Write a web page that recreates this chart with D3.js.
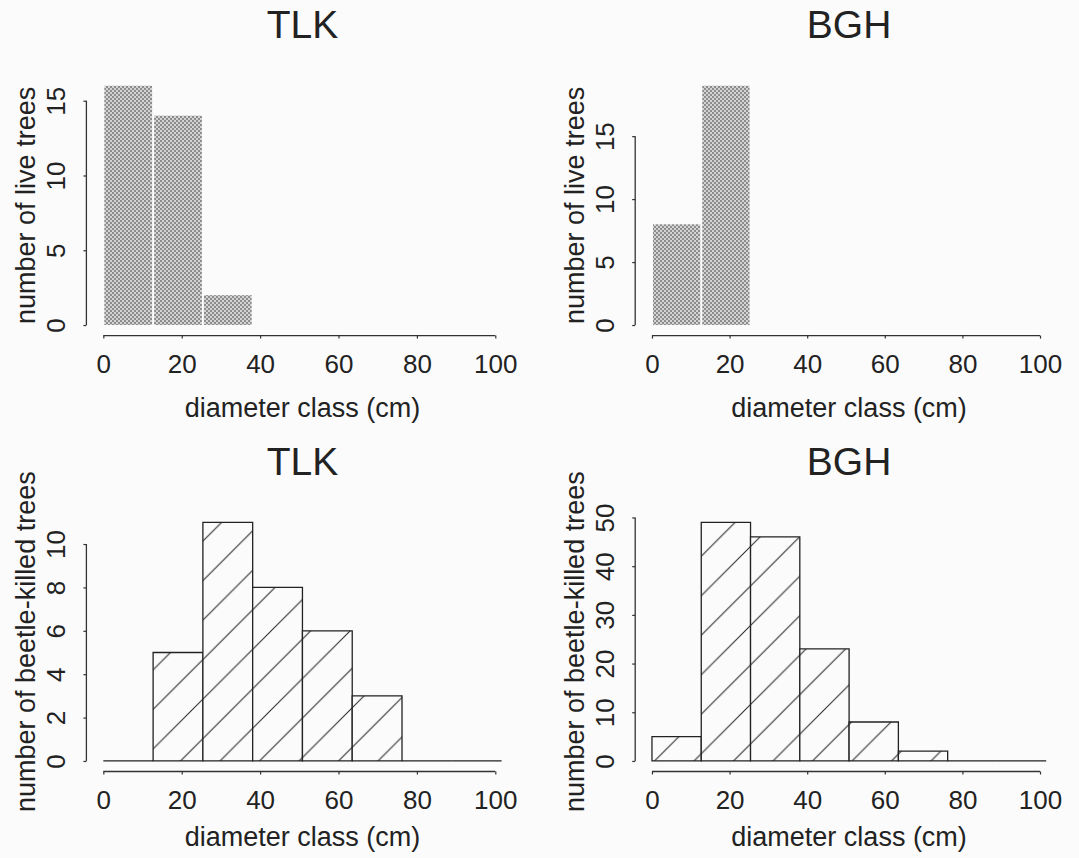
<!DOCTYPE html>
<html lang="en">
<head>
  <meta charset="UTF-8">
  <title>Diameter class histograms</title>
  <style>
    body, html { margin: 0; padding: 0; background: #fbfbfb; }
    svg { display: block; }
    text { font-family: "Liberation Sans", Arial, Helvetica, sans-serif; fill: #222; }
  </style>
</head>
<body>
  <script src="https://d3js.org/d3.v7.min.js"></script>
  <script>
    // histogram bins (5 inch classes, in cm)
    const breaks = [0, 12.7, 25.4, 38.1, 50.8, 63.5, 76.2, 88.9, 101.6];
    const xTicks = [0, 20, 40, 60, 80, 100];

    // counts per bin
    const liveTLK = [16, 14, 2, 0, 0, 0, 0, 0];
    const liveBGH = [8, 19, 0, 0, 0, 0, 0, 0];
    const killedTLK = [0, 5, 11, 8, 6, 3, 0, 0];
    const killedBGH = [5, 49, 46, 23, 8, 2, 0, 0];

    const yTicksLiveTLK = [0, 5, 10, 15];
    const yTicksLiveBGH = [0, 5, 10, 15];
    const yTicksKilledTLK = [0, 2, 4, 6, 8, 10];
    const yTicksKilledBGH = [0, 10, 20, 30, 40, 50];

    const titles = ['TLK', 'BGH'];
    const yLabels = ['number of live trees', 'number of beetle-killed trees'];
    const xLabel = 'diameter class (cm)';

    const width = 1079, height = 858;

    // plot regions (left, right, top, bottom) per column / row
    const cols = [[87.4, 517.5], [636.2, 1062]];
    const rows = [[76.2, 334.6], [512.8, 770.5]];
    const xLabelOffset = [82, 75];

    const panels = [
      { col: 0, row: 0, title: titles[0], counts: liveTLK, yTicks: yTicksLiveTLK, yLabel: yLabels[0], kind: 'stipple' },
      { col: 1, row: 0, title: titles[1], counts: liveBGH, yTicks: yTicksLiveBGH, yLabel: yLabels[0], kind: 'stipple' },
      { col: 0, row: 1, title: titles[0], counts: killedTLK, yTicks: yTicksKilledTLK, yLabel: yLabels[1], kind: 'hatch' },
      { col: 1, row: 1, title: titles[1], counts: killedBGH, yTicks: yTicksKilledBGH, yLabel: yLabels[1], kind: 'hatch' }
    ];

    const svg = d3.select('body').append('svg')
      .attr('width', width)
      .attr('height', height);

    const defs = svg.append('defs');

    // stippled grey fill
    const stip = defs.append('pattern')
      .attr('id', 'stipple')
      .attr('patternUnits', 'userSpaceOnUse')
      .attr('width', 4).attr('height', 4);
    stip.append('rect').attr('width', 4).attr('height', 4).attr('fill', '#d4d4d4');
    stip.append('rect').attr('width', 2).attr('height', 2).attr('fill', '#8c8c8c');
    stip.append('rect').attr('x', 2).attr('y', 2).attr('width', 2).attr('height', 2).attr('fill', '#8c8c8c');

    // 45 degree hatching
    const s = 39.5;
    const hatch = defs.append('pattern')
      .attr('id', 'hatch')
      .attr('patternUnits', 'userSpaceOnUse')
      .attr('x', 33).attr('y', 0)
      .attr('width', s).attr('height', s);
    hatch.append('rect').attr('width', s).attr('height', s).attr('fill', '#fbfbfb');
    hatch.append('path')
      .attr('d', `M-2,2 L2,-2 M0,${s} L${s},0 M${s - 2},${s + 2} L${s + 2},${s - 2}`)
      .attr('stroke', '#222')
      .attr('stroke-width', 1);

    panels.forEach(p => {
      const [left, right] = cols[p.col];
      const [top, bottom] = rows[p.row];
      const xMin = breaks[0], xMax = breaks[breaks.length - 1];
      const xPad = (xMax - xMin) * 0.04;
      const yMax = d3.max(p.counts);

      const x = d3.scaleLinear().domain([xMin - xPad, xMax + xPad]).range([left, right]);
      const y = d3.scaleLinear().domain([-yMax * 0.04, yMax * 1.04]).range([bottom, top]);

      const g = svg.append('g');

      const bins = p.counts.map((c, i) => ({ x0: breaks[i], x1: breaks[i + 1], c }));

      if (p.kind === 'stipple') {
        g.selectAll('rect.bar')
          .data(bins.filter(d => d.c > 0))
          .enter().append('rect')
          .attr('class', 'bar')
          .attr('x', d => x(d.x0) + 1)
          .attr('width', d => x(d.x1) - x(d.x0) - 2)
          .attr('y', d => y(d.c))
          .attr('height', d => y(0) - y(d.c))
          .attr('fill', 'url(#stipple)');
      } else {
        g.selectAll('path.bar')
          .data(bins)
          .enter().append('path')
          .attr('class', 'bar')
          .attr('d', d => `M${x(d.x0)},${y(0)}V${y(d.c)}H${x(d.x1)}V${y(0)}Z`)
          .attr('fill', 'url(#hatch)')
          .attr('stroke', '#222')
          .attr('stroke-width', 1.3);
      }

      // x axis
      const xAxis = g.append('g')
        .attr('transform', `translate(0,${bottom + 1})`)
        .call(d3.axisBottom(x).tickValues(xTicks).tickSize(3).tickSizeOuter(0).tickPadding(0));
      xAxis.select('.domain').attr('d', `M${x(xTicks[0])},0H${x(xTicks[xTicks.length - 1])}`)
        .attr('stroke', '#333').attr('stroke-width', 1.3);
      xAxis.selectAll('.tick line').attr('stroke', '#333').attr('stroke-width', 1.2);
      xAxis.selectAll('.tick text')
        .attr('y', 37).attr('dy', null)
        .style('font-size', '26px')
        .style('font-family', '"Liberation Sans", Arial, sans-serif')
        .attr('fill', '#222');

      // y axis
      const yAxis = g.append('g')
        .attr('transform', `translate(${left - 1},0)`)
        .call(d3.axisLeft(y).tickValues(p.yTicks).tickSize(3).tickSizeOuter(0));
      yAxis.select('.domain').attr('d', `M0,${y(p.yTicks[0])}V${y(p.yTicks[p.yTicks.length - 1])}`)
        .attr('stroke', '#333').attr('stroke-width', 1.3);
      yAxis.selectAll('.tick line').attr('stroke', '#333').attr('stroke-width', 1.2);
      yAxis.selectAll('.tick text')
        .attr('transform', 'rotate(-90)')
        .attr('x', 0).attr('y', -21).attr('dy', null)
        .attr('text-anchor', 'middle')
        .style('font-size', '26px')
        .style('font-family', '"Liberation Sans", Arial, sans-serif')
        .attr('fill', '#222');

      // title
      g.append('text')
        .attr('x', (left + right) / 2)
        .attr('y', top - 38)
        .attr('text-anchor', 'middle')
        .style('font-size', '39px')
        .text(p.title);

      // axis labels
      g.append('text')
        .attr('x', (left + right) / 2)
        .attr('y', bottom + xLabelOffset[p.row])
        .attr('text-anchor', 'middle')
        .style('font-size', '27px')
        .text(xLabel);

      g.append('text')
        .attr('transform', `translate(${left - 52},${(top + bottom) / 2}) rotate(-90)`)
        .attr('text-anchor', 'middle')
        .style('font-size', '27px')
        .text(p.yLabel);
    });
  </script>
</body>
</html>
